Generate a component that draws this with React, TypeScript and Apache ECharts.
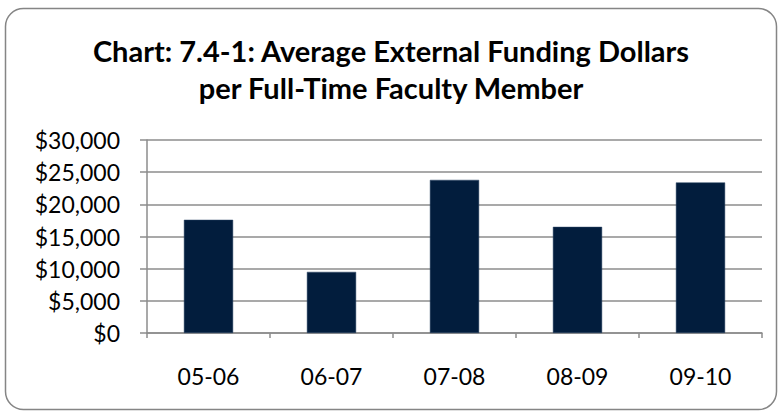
import React, { useEffect, useRef } from "react";
import * as echarts from "echarts";

const categories = ["05-06", "06-07", "07-08", "08-09", "09-10"];
const fundingValues = [17600, 9500, 23800, 16500, 23400];
const yTicks = [0, 5000, 10000, 15000, 20000, 25000, 30000];
const titleLines = ["Chart: 7.4-1: Average External Funding Dollars", "per Full-Time Faculty Member"];

const FONT = "Lato, 'Noto Sans', sans-serif";

export default function App() {
  const ref = useRef<HTMLDivElement>(null);
  useEffect(() => {
    if (!ref.current) return;
    const chart = echarts.init(ref.current, undefined, { renderer: "svg" });
    chart.setOption({
      animation: false,
      backgroundColor: "#ffffff",
      textStyle: { fontFamily: FONT },
      graphic: [
        {
          type: "rect",
          shape: { x: 5.5, y: 8.5, width: 771, height: 401, r: 18 },
          style: { fill: "none", stroke: "#858585", lineWidth: 1.5 },
          z: 0,
        },
        {
          type: "text",
          x: 391,
          y: 50,
          style: {
            text: titleLines[0],
            font: `bold 29px ${FONT}`,
            fill: "#000000",
            align: "center",
            verticalAlign: "middle",
          },
        },
        {
          type: "text",
          x: 391,
          y: 87,
          style: {
            text: titleLines[1],
            font: `bold 29px ${FONT}`,
            fill: "#000000",
            align: "center",
            verticalAlign: "middle",
          },
        },
      ],
      grid: { left: 147, right: 20, top: 140, bottom: 80, containLabel: false },
      xAxis: {
        type: "category",
        data: categories,
        axisLine: { lineStyle: { color: "#8c8c8c", width: 1.5 } },
        axisTick: { show: true, length: 5, lineStyle: { color: "#8c8c8c", width: 1.5 } },
        axisLabel: { color: "#000000", fontSize: 23, fontFamily: FONT, margin: 31 },
      },
      yAxis: {
        type: "value",
        min: yTicks[0],
        max: yTicks[yTicks.length - 1],
        interval: yTicks[1] - yTicks[0],
        axisLine: { show: true, lineStyle: { color: "#8c8c8c", width: 1.5 } },
        axisTick: { show: true, length: 7, lineStyle: { color: "#8c8c8c", width: 1.5 } },
        splitLine: { lineStyle: { color: "#8c8c8c", width: 1.5 } },
        axisLabel: {
          color: "#000000",
          fontSize: 23,
          fontFamily: FONT,
          margin: 27,
          formatter: (v: number) => "$" + v.toLocaleString("en-US"),
        },
      },
      series: [
        {
          type: "bar",
          data: fundingValues,
          barWidth: "40%",
          itemStyle: { color: "#021d3d", borderColor: "#2a4565", borderWidth: 0.5 },
        },
      ],
    });
    return () => chart.dispose();
  }, []);
  return (
    <div
      ref={ref}
      style={{ position: "absolute", left: 0, top: 0, width: 782, height: 413 }}
    />
  );
}
